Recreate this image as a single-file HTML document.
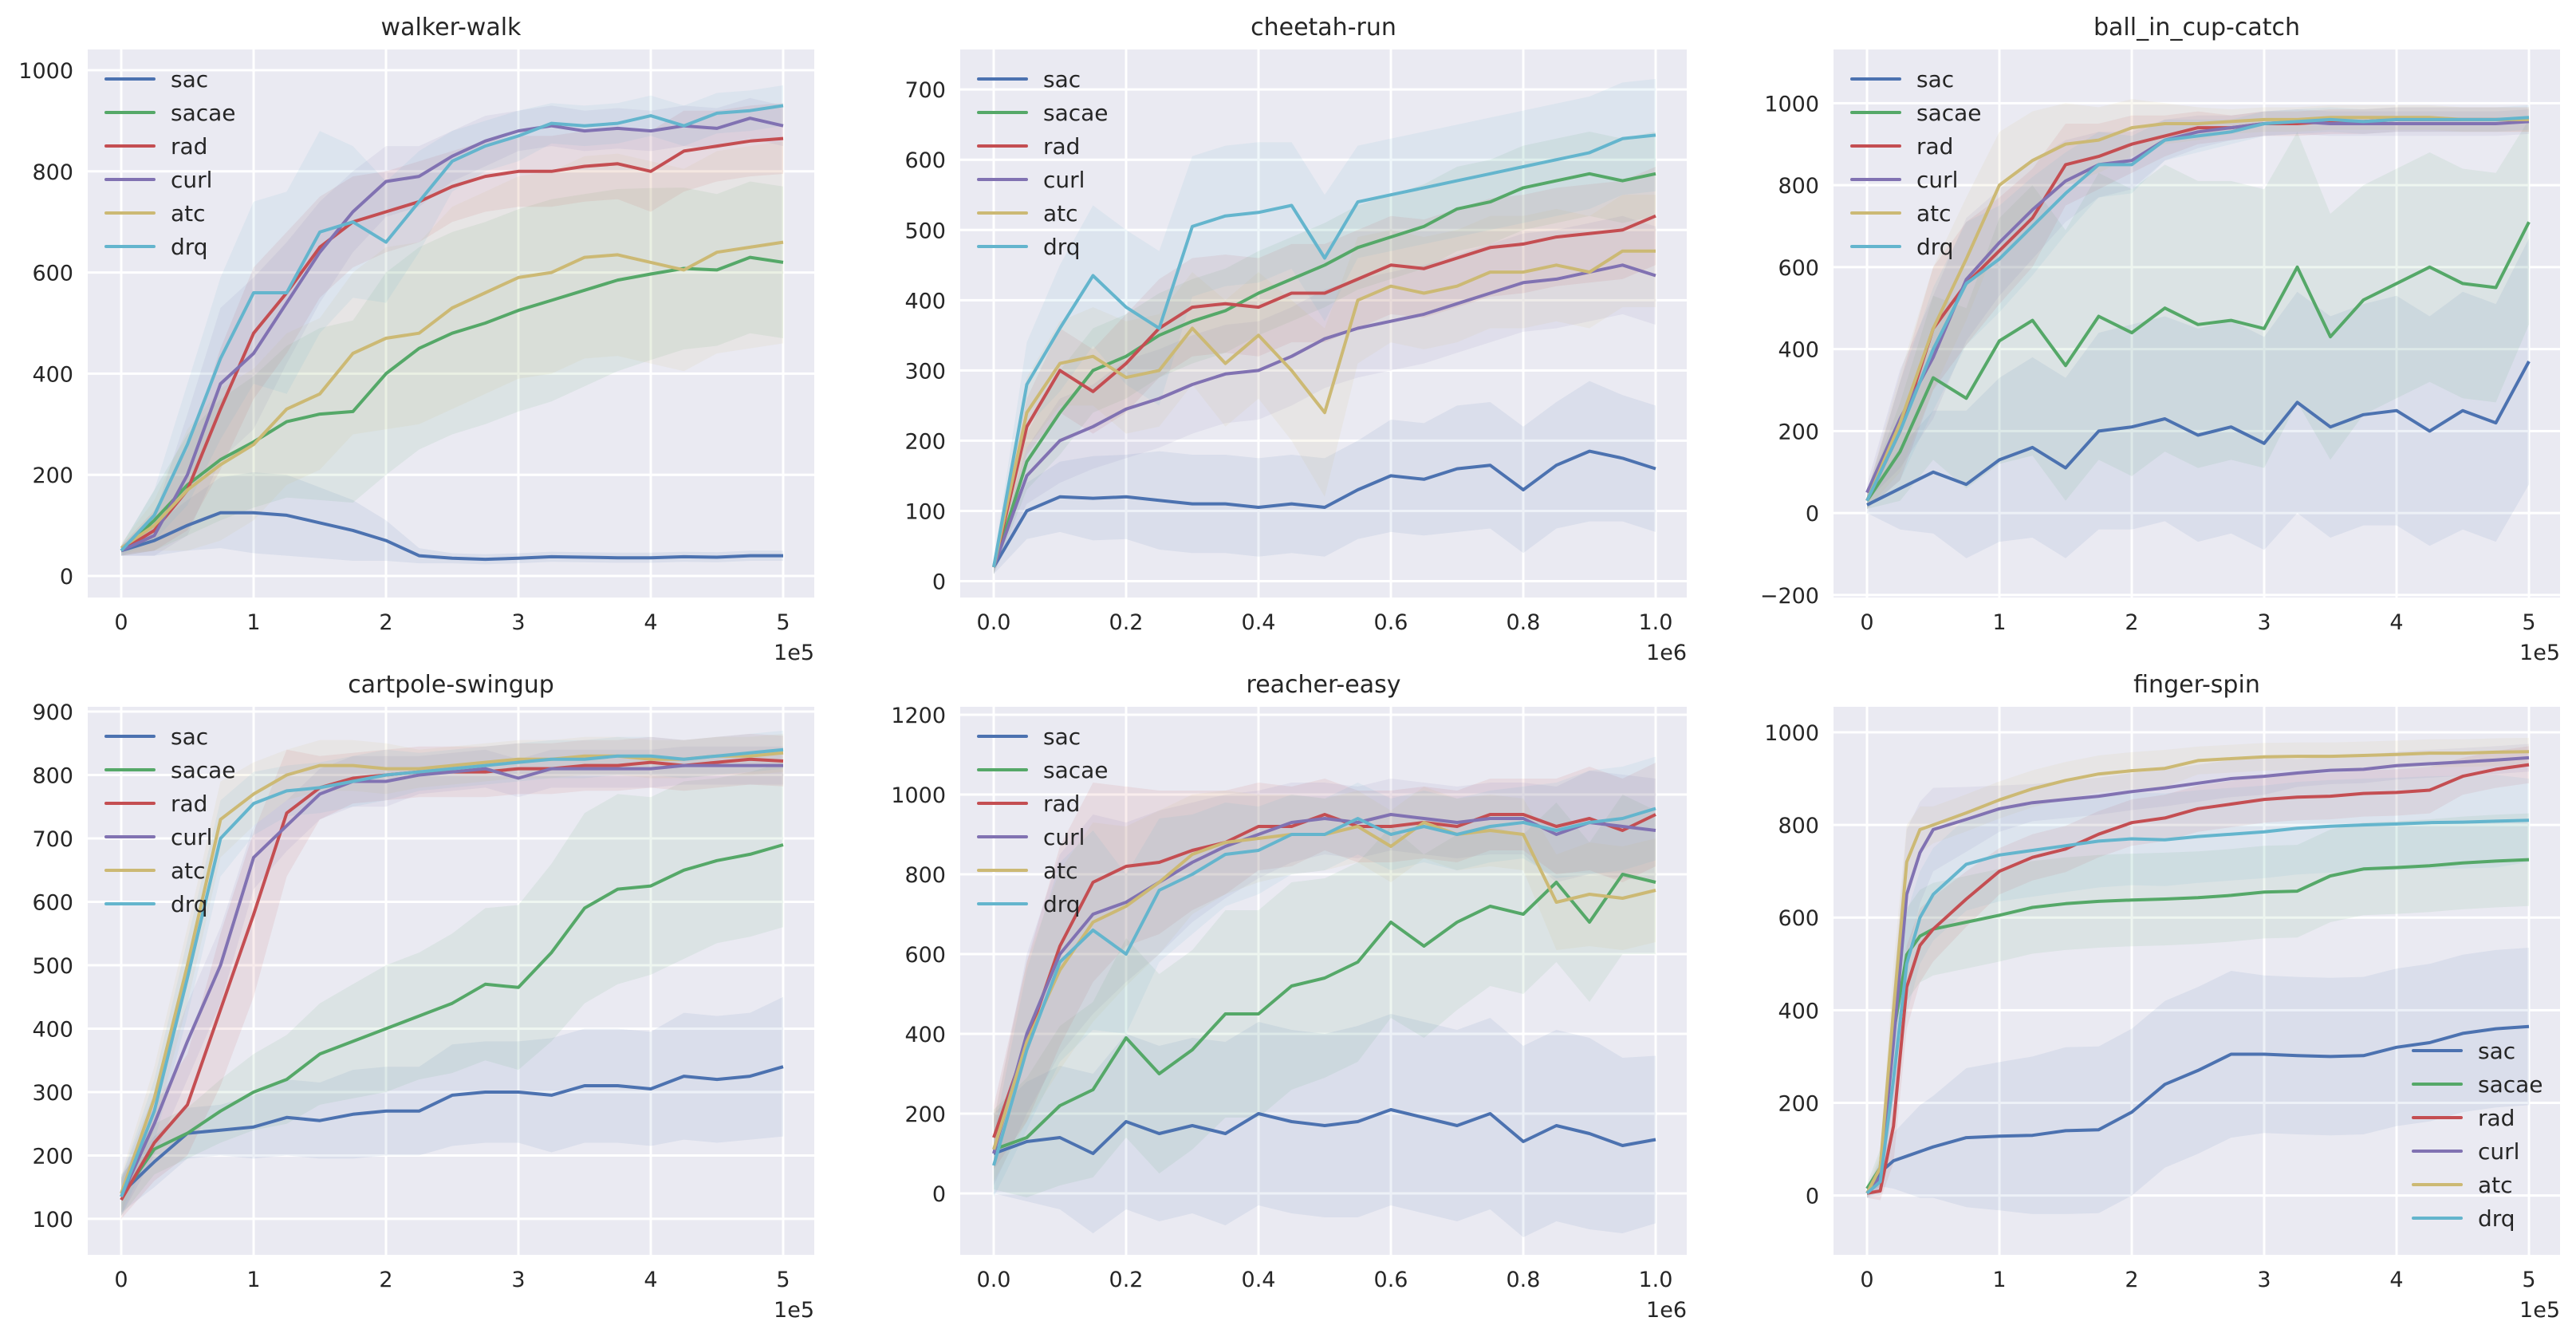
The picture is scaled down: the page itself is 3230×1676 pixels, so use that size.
<!DOCTYPE html>
<html><head><meta charset="utf-8"><style>
html,body{margin:0;padding:0;background:#fff;}
svg{display:block;font-family:"DejaVu Sans","Liberation Sans",sans-serif;}
</style></head>
<body>
<svg id="fig" width="3230" height="1676" viewBox="0 0 3230 1676" xmlns="http://www.w3.org/2000/svg"></svg>
<script>
const NAMES = ["sac","sacae","rad","curl","atc","drq"];
const COLORS = ["#4C72B0","#55A868","#C44E52","#8172B2","#CCB974","#64B5CD"];

const X5 = [0,0.25,0.5,0.75,1,1.25,1.5,1.75,2,2.25,2.5,2.75,3,3.25,3.5,3.75,4,4.25,4.5,4.75,5];
const X10 = [0,0.05,0.1,0.15,0.2,0.25,0.3,0.35,0.4,0.45,0.5,0.55,0.6,0.65,0.7,0.75,0.8,0.85,0.9,0.95,1.0];
const XF = [0,0.1,0.2,0.3,0.4,0.5,0.75,1,1.25,1.5,1.75,2,2.25,2.5,2.75,3,3.25,3.5,3.75,4,4.25,4.5,4.75,5];

// walker-walk
const walkerSac = [50,70,100,125,125,120,105,90,70,40,35,33,35,38,37,36,36,38,37,40,40];
const walkerSacae = [50,110,180,230,265,305,320,325,400,450,480,500,525,545,565,585,597,608,605,630,620];
const walkerRad = [50,90,170,330,480,560,650,700,720,740,770,790,800,800,810,815,800,840,850,860,865];
const walkerCurl = [50,80,200,380,440,540,640,720,780,790,830,860,880,890,880,885,880,890,885,905,890];
const walkerAtc = [55,100,170,220,260,330,360,440,470,480,530,560,590,600,630,635,620,605,640,650,660];
const walkerDrq = [50,120,260,430,560,560,680,700,660,740,820,850,870,895,890,895,910,890,915,920,930];
const walkerSacStd = [10,30,50,70,80,80,70,60,40,15,10,10,10,10,10,10,10,10,10,10,10];
const walkerSacaeStd = [10,60,100,120,130,150,170,180,200,200,200,200,200,200,190,180,170,160,150,150,150];
const walkerRadStd = [10,40,80,120,130,120,100,90,80,80,70,70,70,70,70,70,80,80,70,70,70];
const walkerCurlStd = [10,40,120,150,150,120,100,80,70,60,50,50,40,40,40,40,40,40,40,40,40];
const walkerAtcStd = [10,50,120,150,150,150,150,160,180,180,200,200,200,200,200,200,200,200,200,200,200];
const walkerDrqStd = [10,50,120,160,180,200,200,150,120,100,60,50,50,40,40,40,40,40,40,40,40];

// cheetah-run
const cheetahSac = [20,100,120,118,120,115,110,110,105,110,105,130,150,145,160,165,130,165,185,175,160];
const cheetahSacae = [20,170,240,300,320,350,370,385,410,430,450,475,490,505,530,540,560,570,580,570,580];
const cheetahRad = [20,220,300,270,310,360,390,395,390,410,410,430,450,445,460,475,480,490,495,500,520];
const cheetahCurl = [20,150,200,220,245,260,280,295,300,320,345,360,370,380,395,410,425,430,440,450,435];
const cheetahAtc = [20,240,310,320,290,300,360,310,350,300,240,400,420,410,420,440,440,450,440,470,470];
const cheetahDrq = [20,280,360,435,390,360,505,520,525,535,460,540,550,560,570,580,590,600,610,630,635];
const cheetahSacStd = [10,40,50,60,60,70,70,70,70,70,70,70,80,80,90,90,90,90,100,90,90];
const cheetahSacaeStd = [10,40,60,60,60,60,60,60,60,60,60,60,60,60,60,60,60,60,60,60,60];
const cheetahRadStd = [10,40,60,60,70,70,70,70,70,70,70,70,70,70,70,70,70,70,70,70,70];
const cheetahCurlStd = [10,40,60,60,70,70,70,70,70,70,70,70,70,70,70,70,70,70,70,70,70];
const cheetahAtcStd = [10,50,60,70,80,80,80,90,90,100,120,90,80,80,80,80,80,80,80,80,80];
const cheetahDrqStd = [10,60,90,100,110,110,100,100,100,90,90,80,80,80,80,80,80,80,80,80,80];

// ball_in_cup-catch
const ballSac = [20,60,100,70,130,160,110,200,210,230,190,210,170,270,210,240,250,200,250,220,370];
const ballSacae = [30,150,330,280,420,470,360,480,440,500,460,470,450,600,430,520,560,600,560,550,710];
const ballRad = [30,200,450,560,640,720,850,870,900,920,940,940,950,950,955,955,960,960,960,960,960];
const ballCurl = [50,230,380,570,660,740,810,850,860,910,930,940,950,955,950,950,950,950,950,950,955];
const ballAtc = [30,220,450,620,800,860,900,910,940,950,950,955,960,960,965,965,965,965,960,960,960];
const ballDrq = [30,200,400,560,620,700,780,850,850,910,920,930,950,955,960,955,960,960,960,960,965];
const ballSacStd = [20,100,150,180,200,220,220,240,250,250,260,260,260,270,270,270,280,280,290,290,300];
const ballSacaeStd = [20,120,200,220,300,330,330,350,350,350,350,340,340,330,300,280,280,280,280,280,250];
const ballTopStd = [20,120,150,150,130,120,100,80,70,50,40,30,30,30,30,30,30,30,30,30,30];

// cartpole-swingup
const cartSac = [140,190,235,240,245,260,255,265,270,270,295,300,300,295,310,310,305,325,320,325,340];
const cartSacae = [135,210,235,270,300,320,360,380,400,420,440,470,465,520,590,620,625,650,665,675,690];
const cartRad = [130,220,280,430,580,740,780,795,800,805,805,805,810,810,815,815,820,815,820,825,822];
const cartCurl = [135,250,380,500,670,720,770,790,790,800,805,810,795,810,810,810,810,815,815,815,815];
const cartAtc = [140,290,500,730,770,800,815,815,810,810,815,820,825,825,830,830,825,825,830,830,835];
const cartDrq = [135,270,480,700,755,775,780,790,800,805,810,815,820,825,825,830,830,825,830,835,840];
const cartSacStd = [30,40,40,40,50,60,60,70,70,70,80,80,80,90,90,90,90,100,100,100,110];
const cartSacaeStd = [30,40,40,50,60,70,80,90,100,100,110,120,130,140,150,150,140,140,130,130,130];
const cartRadStd = [30,60,80,120,130,100,50,40,40,40,40,40,40,40,40,40,40,40,40,40,40];
const cartTopStd = [30,50,60,60,50,40,40,40,40,30,30,30,30,30,30,30,30,30,30,30,30];

// reacher-easy
const reachSac = [100,130,140,100,180,150,170,150,200,180,170,180,210,190,170,200,130,170,150,120,135];
const reachSacae = [110,140,220,260,390,300,360,450,450,520,540,580,680,620,680,720,700,780,680,800,780];
const reachRad = [140,380,620,780,820,830,860,880,920,920,950,920,920,930,920,950,950,920,940,910,950];
const reachCurl = [100,400,600,700,730,780,830,870,900,930,940,930,950,940,930,940,940,900,930,920,910];
const reachAtc = [110,380,560,680,720,780,850,880,890,900,900,920,870,930,900,910,900,730,750,740,760];
const reachDrq = [70,360,580,660,600,760,800,850,860,900,900,940,900,920,900,920,930,910,930,940,965];
const reachSacStd = [100,150,180,200,220,220,220,230,230,230,230,240,240,240,240,240,240,240,240,220,210];
const reachSacaeStd = [100,150,200,220,250,250,250,260,260,260,250,250,240,230,220,200,200,200,200,200,180];
const reachTopStd = [80,200,250,250,200,180,150,130,110,100,90,90,90,90,90,90,90,120,130,130,130];

// finger-spin
const fingerSac = [5,50,75,85,95,105,125,128,130,140,142,180,240,270,305,305,302,300,302,320,330,350,360,365];
const fingerSacae = [15,60,350,520,560,575,590,605,622,630,635,638,640,643,648,655,657,690,705,708,712,718,722,725];
const fingerRad = [5,10,150,450,540,575,640,700,730,748,780,805,815,835,845,855,860,862,868,870,875,905,920,930];
const fingerCurl = [5,40,330,650,740,790,812,835,848,855,862,872,880,890,900,905,912,918,920,928,932,936,940,945];
const fingerAtc = [5,60,400,720,790,800,826,854,878,896,910,917,922,939,943,947,948,948,950,952,955,955,957,958];
const fingerDrq = [5,30,250,500,600,650,715,735,745,755,765,770,768,775,780,785,793,797,800,802,805,806,808,810];
const fingerSacStd = [10,30,60,80,100,110,150,160,170,180,180,180,180,180,180,170,170,170,170,170,170,170,170,170];
const fingerSacaeStd = [10,40,80,100,100,100,100,100,100,100,100,100,100,100,100,100,100,100,100,100,100,100,100,100];
const fingerRadStd = [10,20,80,90,80,70,60,50,50,50,50,50,50,50,50,50,50,50,50,50,50,40,40,40];
const fingerCurlStd = [10,30,120,140,110,90,70,50,40,40,40,40,40,40,40,40,30,30,30,30,30,30,30,30];
const fingerAtcStd = [10,30,100,80,50,40,40,40,40,40,40,40,40,30,30,30,30,30,30,30,30,30,30,30];
const fingerDrqStd = [10,30,100,110,100,100,100,100,100,100,100,100,100,100,100,100,100,100,100,100,100,100,100,90];

const svg = document.getElementById('fig');
const NS = "http://www.w3.org/2000/svg";
function mk(tag, attrs, parent){
  const e = document.createElementNS(NS, tag);
  for (const k in attrs) e.setAttribute(k, attrs[k]);
  (parent||svg).appendChild(e);
  return e;
}

const AW = 911, AH = 687;
function panel(cfg){
  const L = cfg.left, T = cfg.top;
  const g = mk('g', {});
  
  
  const xs = v => L + (v - cfg.xlim[0]) / (cfg.xlim[1] - cfg.xlim[0]) * AW;
  const ys = v => T + AH - (v - cfg.ylim[0]) / (cfg.ylim[1] - cfg.ylim[0]) * AH;
  const bg = mk('rect', {x:L, y:T, width:AW, height:AH, fill:'#EAEAF2'}, g);
  
  
  const clipId = 'clip-' + cfg.id;
  const cp = mk('clipPath', {id: clipId}, g);
  mk('rect', {x:L, y:T, width:AW, height:AH}, cp);
  // grid + ticks
  cfg.xticks.forEach((t, i) => {
    const x = xs(t);
    const gl = mk('line', {x1:x, x2:x, y1:T, y2:T+AH, stroke:'#fff', 'stroke-width':3}, g);
    
    
    const tx = mk('text', {x:x, y:T+AH+40, 'text-anchor':'middle', 'font-size':27, fill:'#262626'}, g);
    tx.textContent = cfg.xlabels[i];
    
    
  });
  cfg.yticks.forEach(t => {
    const y = ys(t);
    const gl = mk('line', {x1:L, x2:L+AW, y1:y, y2:y, stroke:'#fff', 'stroke-width':3}, g);
    
    
    const ty = mk('text', {x:L-18, y:y+10, 'text-anchor':'end', 'font-size':27, fill:'#262626'}, g);
    ty.textContent = t < 0 ? '\u2212' + Math.abs(t) : String(t);
    
    
  });
  const off = mk('text', {x:L+AW, y:T+AH+78, 'text-anchor':'end', 'font-size':27, fill:'#262626'}, g);
  off.textContent = cfg.offset;
  
  
  const title = mk('text', {x:L+AW/2, y:T-18, 'text-anchor':'middle', 'font-size':30, fill:'#262626'}, g);
  title.textContent = cfg.title;
  
  
  const data = mk('g', {'clip-path':'url(#' + clipId + ')'}, g);
  // bands
  cfg.series.forEach((s, si) => {
    let pts = [];
    for (let i = 0; i < cfg.xs.length; i++) pts.push(xs(cfg.xs[i]).toFixed(1) + ',' + ys(s.mean[i] + s.std[i]).toFixed(1));
    for (let i = cfg.xs.length - 1; i >= 0; i--) pts.push(xs(cfg.xs[i]).toFixed(1) + ',' + ys(s.mean[i] - s.std[i]).toFixed(1));
    const b = mk('polygon', {points: pts.join(' '), fill: COLORS[si], 'fill-opacity': 0.1}, data);
    
    
  });
  cfg.series.forEach((s, si) => {
    const pts = cfg.xs.map((v, i) => xs(v).toFixed(1) + ',' + ys(s.mean[i]).toFixed(1)).join(' ');
    const ln = mk('polyline', {points: pts, fill:'none', stroke: COLORS[si], 'stroke-width':4, 'stroke-linejoin':'round'}, data);
    
    
  });
  // legend
  const lg = mk('g', {}, g);
  
  
  let lx, ly;
  if (cfg.legend === 'lr') { lx = L + AW - 184; ly = T + AH - 256; }
  else { lx = L + 23; ly = T + 37; }
  NAMES.forEach((n, i) => {
    const e = mk('g', {}, lg);
    
    
    const y = ly + i * 42;
    mk('line', {x1:lx, x2:lx+60, y1:y, y2:y, stroke:COLORS[i], 'stroke-width':4, 'stroke-linecap':'round'}, e);
    const t = mk('text', {x:lx+81, y:y+10, 'font-size':28, fill:'#262626'}, e);
    t.textContent = n;
  });
}

const T5 = [0,1,2,3,4,5], L5 = ['0','1','2','3','4','5'];
const T10 = [0,0.2,0.4,0.6,0.8,1.0], L10 = ['0.0','0.2','0.4','0.6','0.8','1.0'];
const XL5 = [-0.253,5.235], XL10 = [-0.0506,1.047];

panel({id:'walker-walk', title:'walker-walk', left:110, top:62, xlim:XL5, ylim:[-42.6,1041],
  xticks:T5, xlabels:L5, yticks:[0,200,400,600,800,1000], offset:'1e5', xs:X5, legend:'ul',
  series:[{mean:walkerSac,std:walkerSacStd},{mean:walkerSacae,std:walkerSacaeStd},{mean:walkerRad,std:walkerRadStd},
          {mean:walkerCurl,std:walkerCurlStd},{mean:walkerAtc,std:walkerAtcStd},{mean:walkerDrq,std:walkerDrqStd}]});
panel({id:'cheetah-run', title:'cheetah-run', left:1204, top:62, xlim:XL10, ylim:[-23.3,757],
  xticks:T10, xlabels:L10, yticks:[0,100,200,300,400,500,600,700], offset:'1e6', xs:X10, legend:'ul',
  series:[{mean:cheetahSac,std:cheetahSacStd},{mean:cheetahSacae,std:cheetahSacaeStd},{mean:cheetahRad,std:cheetahRadStd},
          {mean:cheetahCurl,std:cheetahCurlStd},{mean:cheetahAtc,std:cheetahAtcStd},{mean:cheetahDrq,std:cheetahDrqStd}]});
panel({id:'ball-in-cup-catch', title:'ball_in_cup-catch', left:2299, top:62, xlim:XL5, ylim:[-206,1131],
  xticks:T5, xlabels:L5, yticks:[-200,0,200,400,600,800,1000], offset:'1e5', xs:X5, legend:'ul',
  series:[{mean:ballSac,std:ballSacStd},{mean:ballSacae,std:ballSacaeStd},{mean:ballRad,std:ballTopStd},
          {mean:ballCurl,std:ballTopStd},{mean:ballAtc,std:ballTopStd},{mean:ballDrq,std:ballTopStd}]});
panel({id:'cartpole-swingup', title:'cartpole-swingup', left:110, top:886, xlim:XL5, ylim:[43.3,907.6],
  xticks:T5, xlabels:L5, yticks:[100,200,300,400,500,600,700,800,900], offset:'1e5', xs:X5, legend:'ul',
  series:[{mean:cartSac,std:cartSacStd},{mean:cartSacae,std:cartSacaeStd},{mean:cartRad,std:cartRadStd},
          {mean:cartCurl,std:cartTopStd},{mean:cartAtc,std:cartTopStd},{mean:cartDrq,std:cartTopStd}]});
panel({id:'reacher-easy', title:'reacher-easy', left:1204, top:886, xlim:XL10, ylim:[-154,1220],
  xticks:T10, xlabels:L10, yticks:[0,200,400,600,800,1000,1200], offset:'1e6', xs:X10, legend:'ul',
  series:[{mean:reachSac,std:reachSacStd},{mean:reachSacae,std:reachSacaeStd},{mean:reachRad,std:reachTopStd},
          {mean:reachCurl,std:reachTopStd},{mean:reachAtc,std:reachTopStd},{mean:reachDrq,std:reachTopStd}]});
panel({id:'finger-spin', title:'finger-spin', left:2299, top:886, xlim:XL5, ylim:[-128,1055],
  xticks:T5, xlabels:L5, yticks:[0,200,400,600,800,1000], offset:'1e5', xs:XF, legend:'lr',
  series:[{mean:fingerSac,std:fingerSacStd},{mean:fingerSacae,std:fingerSacaeStd},{mean:fingerRad,std:fingerRadStd},
          {mean:fingerCurl,std:fingerCurlStd},{mean:fingerAtc,std:fingerAtcStd},{mean:fingerDrq,std:fingerDrqStd}]});
</script>
</body></html>
